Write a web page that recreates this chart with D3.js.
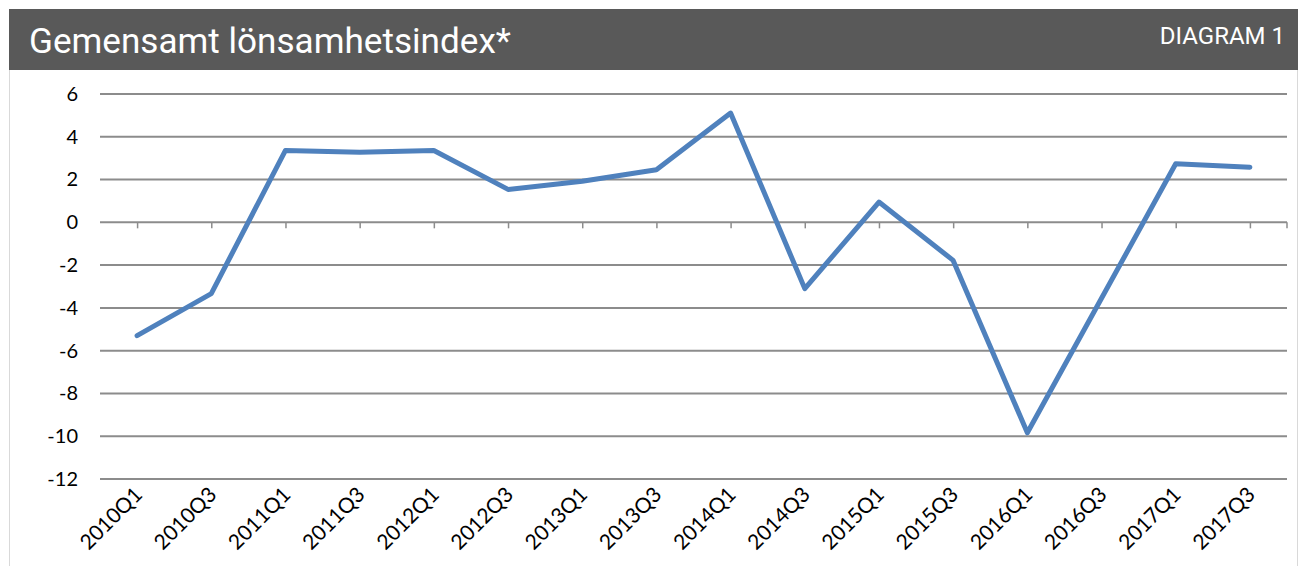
<!DOCTYPE html>
<html>
<head>
<meta charset="utf-8">
<script src="https://cdn.jsdelivr.net/npm/d3@7"></script>
<style>
  body { margin: 0; background: #fff; }
  svg { display: block; }
</style>
</head>
<body>
<main></main>
<script>
// Data
const categories = ["2010Q1", "2010Q3", "2011Q1", "2011Q3", "2012Q1", "2012Q3", "2013Q1", "2013Q3",
  "2014Q1", "2014Q3", "2015Q1", "2015Q3", "2016Q1", "2016Q3", "2017Q1", "2017Q3"];
const values = [-5.3, -3.33, 3.36, 3.28, 3.36, 1.54, 1.92, 2.46,
  5.11, -3.1, 0.95, -1.78, -9.84, -3.55, 2.74, 2.58];
const yTicks = [6, 4, 2, 0, -2, -4, -6, -8, -10, -12];
const title = "Gemensamt lönsamhetsindex*";
const badge = "DIAGRAM 1";

// Dimensions
const width = 1301;
const height = 566;
const margin = { top: 94, right: 14, bottom: 87, left: 100 };

const svg = d3.select("main")
  .append("svg")
  .attr("width", width)
  .attr("height", height);

// Frame + header
svg.append("rect")
  .attr("x", 9.5).attr("y", 10.5)
  .attr("width", 1288).attr("height", 580)
  .attr("fill", "none")
  .attr("stroke", "#d9d9d9");

svg.append("rect")
  .attr("x", 9).attr("y", 9)
  .attr("width", 1289).attr("height", 61)
  .attr("fill", "#595959");

const titleText = svg.append("text")
  .attr("x", 29)
  .attr("y", 53)
  .attr("fill", "#fff")
  .style("font-family", "Roboto, 'Liberation Sans', sans-serif")
  .style("font-size", "32px")
  .text(title);
// fit to the width seen in the picture
const tw = titleText.node().getComputedTextLength();
titleText.style("font-size", (32 * 482 / tw) + "px");

svg.append("text")
  .attr("x", 1285)
  .attr("y", 44)
  .attr("text-anchor", "end")
  .attr("fill", "#fff")
  .style("font-family", "Roboto, 'Liberation Sans', sans-serif")
  .style("font-size", "24px")
  .text(badge);

// Scales
const xScale = d3.scalePoint()
  .domain(categories)
  .range([margin.left, width - margin.right])
  .padding(0.5);

const yScale = d3.scaleLinear()
  .domain([d3.min(yTicks), d3.max(yTicks)])
  .range([height - margin.bottom, margin.top]);

// Gridlines
svg.append("g")
  .selectAll("line")
  .data(yTicks)
  .enter()
  .append("line")
  .attr("x1", margin.left)
  .attr("x2", width - margin.right)
  .attr("y1", d => yScale(d))
  .attr("y2", d => yScale(d))
  .attr("stroke", "#8c8c8c")
  .attr("stroke-width", 2);

// Y axis labels
const yAxis = d3.axisLeft(yScale)
  .tickValues(yTicks)
  .tickFormat(d => String(d))
  .tickSize(0)
  .tickPadding(22);

svg.append("g")
  .attr("transform", `translate(${margin.left},0)`)
  .call(yAxis)
  .call(g => g.select(".domain").remove())
  .selectAll("text")
  .attr("fill", "#000")
  .style("font-family", "Lato, 'Open Sans', sans-serif")
  .style("font-size", "20px");

// X axis at zero with tick marks
const xAxis = d3.axisBottom(xScale)
  .tickSize(6)
  .tickFormat("");

const zeroAxis = svg.append("g")
  .attr("transform", `translate(0,${yScale(0)})`)
  .call(xAxis);
zeroAxis.select(".domain").remove();
zeroAxis.selectAll(".tick line").attr("stroke", "#8c8c8c").attr("stroke-width", 1.5);
zeroAxis.append("line")
  .attr("x1", width - margin.right).attr("x2", width - margin.right)
  .attr("y1", 0).attr("y2", 6)
  .attr("stroke", "#8c8c8c").attr("stroke-width", 1.5);

// Category labels below the plot
const labelAxis = d3.axisBottom(xScale).tickSize(0);
svg.append("g")
  .attr("transform", `translate(0,${height - margin.bottom})`)
  .call(labelAxis)
  .call(g => g.select(".domain").remove())
  .selectAll("text")
  .attr("fill", "#000")
  .style("font-family", "Lato, 'Open Sans', sans-serif")
  .style("font-size", "21px")
  .attr("dy", 0)
  .attr("y", 0)
  .attr("transform", "translate(6,17) rotate(-45)")
  .style("text-anchor", "end");

// Line
const line = d3.line()
  .x((d, i) => xScale(categories[i]))
  .y(d => yScale(d));

svg.append("path")
  .datum(values)
  .attr("d", line)
  .attr("fill", "none")
  .attr("stroke", "#4f81bd")
  .attr("stroke-width", 5)
  .attr("stroke-linejoin", "round")
  .attr("stroke-linecap", "round");
</script>
</body>
</html>
